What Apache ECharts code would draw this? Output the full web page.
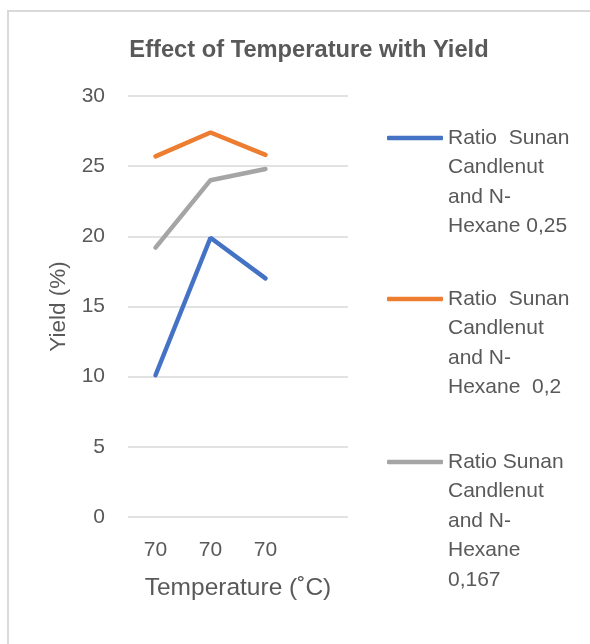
<!DOCTYPE html>
<html>
<head>
<meta charset="utf-8">
<script src="https://cdn.jsdelivr.net/npm/echarts@6/dist/echarts.min.js"></script>
<style>html,body{margin:0;padding:0;background:#fff;}#c{width:590px;height:644px;}</style>
</head>
<body>
<div id="c"></div>
<script>
var categories = ['70', '70', '70', ''];
var yTicks = [0, 5, 10, 15, 20, 25, 30];
var nameS1 = ['Ratio  Sunan', 'Candlenut', 'and N-', 'Hexane 0,25'];
var nameS2 = ['Ratio  Sunan', 'Candlenut', 'and N-', 'Hexane  0,2'];
var nameS3 = ['Ratio Sunan', 'Candlenut', 'and N-', 'Hexane', '0,167'];
var valuesS1 = [10.1, 19.9, 17.0];
var valuesS2 = [25.7, 27.4, 25.8];
var valuesS3 = [19.2, 24.0, 24.8];

var FONT = 'Liberation Sans';
var TXT = '#595959';
var LH = 29.5;
var colors = ['#4472C4', '#ED7D31', '#A5A5A5'];
var names = [nameS1, nameS2, nameS3];
var vals = [valuesS1, valuesS2, valuesS3];
var iconY = [138, 299, 462];

var series = names.map(function (n, i) {
  return {
    name: n.join('\n'),
    type: 'line',
    data: vals[i],
    symbol: 'none',
    showSymbol: false,
    color: colors[i],
    lineStyle: { width: 4.5, color: colors[i], cap: 'round' },
    animation: false
  };
});

var legends = names.map(function (n, i) {
  var k = n.length;
  var pre = new Array(k).join('\n');
  return {
    data: [n.join('\n')],
    left: 387,
    top: iconY[i] - (2 * k - 1) * LH / 2,
    padding: 0,
    itemWidth: 56,
    itemHeight: 4.5,
    icon: 'roundRect',
    selectedMode: false,
    formatter: function (name) { return pre + name; },
    textStyle: {
      fontFamily: FONT,
      fontSize: 21,
      color: TXT,
      lineHeight: LH
    }
  };
});

var chart = echarts.init(document.getElementById('c'), null, { renderer: 'canvas' });
chart.setOption({
  animation: false,
  backgroundColor: '#ffffff',
  graphic: [{
    type: 'rect',
    shape: { x: 8, y: 11, width: 700, height: 800 },
    style: { fill: 'none', stroke: '#d9d9d9', lineWidth: 2 },
    silent: true,
    z: -1
  }],
  title: {
    text: 'Effect of Temperature with Yield',
    left: 304,
    textAlign: 'center',
    top: 33,
    textStyle: { fontFamily: FONT, fontSize: 23.7, fontWeight: 'bold', color: TXT }
  },
  legend: legends,
  grid: { left: 128, right: 242, top: 96, bottom: 127, containLabel: false },
  xAxis: {
    type: 'category',
    data: categories,
    boundaryGap: true,
    axisLine: { show: false },
    axisTick: { show: false },
    axisLabel: { fontFamily: FONT, fontSize: 21, color: TXT, margin: 23, interval: 0 },
    name: 'Temperature (˚C)',
    nameLocation: 'middle',
    nameGap: 59,
    nameTextStyle: { fontFamily: FONT, fontSize: 24.5, color: TXT }
  },
  yAxis: {
    type: 'value',
    min: yTicks[0],
    max: yTicks[yTicks.length - 1],
    interval: yTicks[1] - yTicks[0],
    axisLine: { show: false },
    axisTick: { show: false },
    splitLine: { lineStyle: { color: '#d9d9d9', width: 1.5 } },
    axisLabel: { fontFamily: FONT, fontSize: 21, color: TXT, margin: 23 },
    name: 'Yield (%)',
    nameLocation: 'middle',
    nameGap: 58,
    nameTextStyle: { fontFamily: FONT, fontSize: 22.5, color: TXT }
  },
  series: series
});
</script>
</body>
</html>
